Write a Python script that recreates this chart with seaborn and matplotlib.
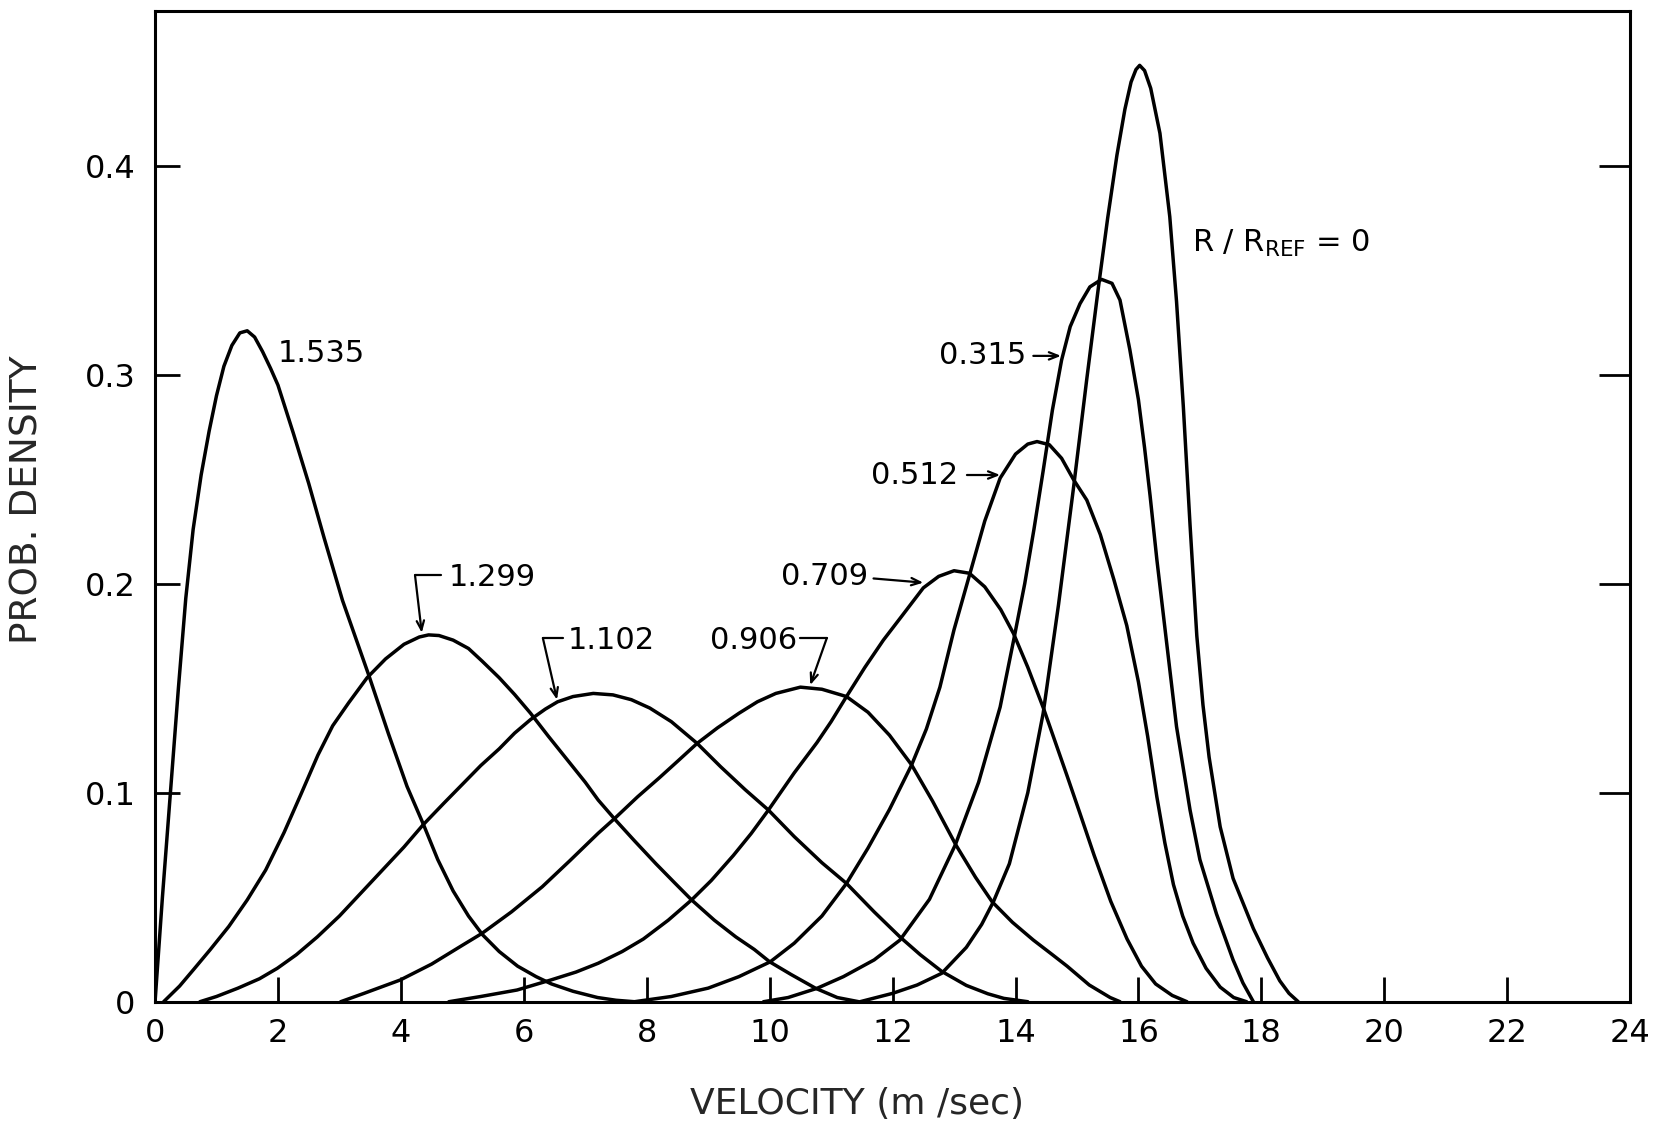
import matplotlib
matplotlib.use("Agg")
import matplotlib.pyplot as plt
import pandas as pd
import seaborn as sns

# Velocity (m/s) and probability density for each radial position R/R_REF
v_1535 = [0, 0.12, 0.25, 0.38, 0.5, 0.62, 0.75, 0.88, 1.0, 1.12, 1.25, 1.38, 1.5, 1.62, 1.75, 1.88, 2.0,
          2.25, 2.5, 2.75, 3.05, 3.48, 3.8, 4.1, 4.37, 4.6, 4.85, 5.1, 5.33, 5.6, 5.9, 6.2, 6.45, 6.8, 7.2, 7.5, 7.8]
p_1535 = [0, 0.05, 0.1, 0.15, 0.193, 0.226, 0.252, 0.273, 0.29, 0.304, 0.314, 0.32, 0.321, 0.318, 0.311, 0.303, 0.295,
          0.272, 0.248, 0.222, 0.192, 0.156, 0.128, 0.103, 0.0846, 0.068, 0.053, 0.041, 0.032, 0.024, 0.017, 0.012, 0.0085, 0.005, 0.002, 0.0007, 0]

v_1299 = [0.14, 0.4, 0.63, 0.9, 1.2, 1.5, 1.8, 2.1, 2.37, 2.65, 2.89, 3.15, 3.45, 3.75, 4.05, 4.3, 4.45, 4.62, 4.85,
          5.1, 5.32, 5.6, 5.85, 6.11, 6.4, 6.7, 7.0, 7.21, 7.49, 7.8, 8.15, 8.45, 8.73, 9.1, 9.45, 9.75, 10.0, 10.35, 10.75, 11.1, 11.45]
p_1299 = [0, 0.0075, 0.0155, 0.025, 0.036, 0.0487, 0.063, 0.081, 0.099, 0.118, 0.132, 0.143, 0.155, 0.164, 0.171, 0.1745, 0.1755, 0.1752, 0.173,
          0.169, 0.163, 0.155, 0.147, 0.138, 0.127, 0.116, 0.105, 0.0965, 0.087, 0.077, 0.066, 0.057, 0.0487, 0.039, 0.031, 0.025, 0.0191, 0.013, 0.0064, 0.002, 0]

v_1102 = [0.73, 1.0, 1.35, 1.7, 1.99, 2.3, 2.64, 3.0, 3.35, 3.7, 4.05, 4.36, 4.7, 5.0, 5.3, 5.6, 5.85, 6.11, 6.35, 6.55, 6.8,
          7.13, 7.45, 7.75, 8.05, 8.4, 8.82, 9.2, 9.6, 9.98, 10.4, 10.85, 11.25, 11.7, 12.12, 12.45, 12.8, 13.2, 13.55, 13.81, 14.2]
p_1102 = [0, 0.0025, 0.0065, 0.011, 0.016, 0.0225, 0.031, 0.041, 0.052, 0.063, 0.074, 0.0846, 0.095, 0.104, 0.113, 0.121, 0.1285, 0.135, 0.14, 0.1435, 0.146,
          0.1475, 0.1468, 0.1445, 0.1405, 0.134, 0.1236, 0.1125, 0.1015, 0.0917, 0.079, 0.0665, 0.0566, 0.043, 0.031, 0.0225, 0.0145, 0.0078, 0.0038, 0.0016, 0]

v_0906 = [3.02, 3.4, 3.99, 4.5, 5.0, 5.32, 5.8, 6.3, 6.75, 7.21, 7.49, 7.85, 8.2, 8.5, 8.82, 9.15, 9.5, 9.8, 10.1, 10.5,
          10.85, 11.25, 11.6, 11.95, 12.31, 12.65, 13.03, 13.35, 13.62, 13.95, 14.29, 14.6, 14.84, 15.2, 15.54, 15.7]
p_0906 = [0, 0.004, 0.0104, 0.018, 0.027, 0.0327, 0.043, 0.055, 0.0675, 0.0806, 0.088, 0.098, 0.107, 0.115, 0.1236, 0.131, 0.138, 0.1435, 0.1475, 0.1505,
          0.1495, 0.146, 0.1385, 0.1275, 0.1133, 0.096, 0.075, 0.0595, 0.0478, 0.038, 0.0295, 0.0225, 0.017, 0.008, 0.002, 0]

v_0709 = [4.78, 5.3, 5.89, 6.44, 6.85, 7.21, 7.6, 7.945, 8.35, 8.73, 9.05, 9.41, 9.7, 9.98, 10.4, 10.77, 11.0, 11.25, 11.55, 11.85,
          12.15, 12.5, 12.75, 13.0, 13.25, 13.5, 13.76, 13.97, 14.2, 14.46, 14.84, 15.05, 15.28, 15.55, 15.815, 16.05, 16.28, 16.55, 16.79]
p_0709 = [0, 0.0025, 0.0056, 0.0104, 0.0142, 0.0184, 0.024, 0.03, 0.039, 0.0487, 0.058, 0.07, 0.0805, 0.0917, 0.1095, 0.124, 0.134, 0.146, 0.16, 0.173,
          0.1845, 0.198, 0.2035, 0.2062, 0.205, 0.1985, 0.1876, 0.176, 0.16, 0.14, 0.108, 0.09, 0.07, 0.048, 0.03, 0.017, 0.0085, 0.003, 0]

v_0512 = [7.8, 8.4, 9.0, 9.5, 10.01, 10.4, 10.85, 11.25, 11.6, 11.95, 12.31, 12.55, 12.77, 13.0, 13.26, 13.5, 13.75, 14.0, 14.2, 14.35,
          14.55, 14.75, 14.94, 15.16, 15.38, 15.6, 15.81, 16.0, 16.15, 16.3, 16.43, 16.57, 16.72, 16.89, 17.1, 17.33, 17.55, 17.76]
p_0512 = [0, 0.0025, 0.0065, 0.012, 0.0191, 0.028, 0.041, 0.0566, 0.0735, 0.092, 0.1133, 0.1305, 0.1505, 0.178, 0.205, 0.23, 0.2505, 0.262, 0.2668, 0.268,
          0.2665, 0.26, 0.25, 0.24, 0.2235, 0.202, 0.18, 0.153, 0.127, 0.098, 0.076, 0.056, 0.041, 0.028, 0.016, 0.007, 0.002, 0]

v_0315 = [9.9, 10.3, 10.77, 11.2, 11.7, 12.12, 12.6, 13.02, 13.4, 13.75, 13.97, 14.15, 14.3, 14.45, 14.6, 14.75, 14.89, 15.05, 15.21, 15.4,
          15.57, 15.7, 15.86, 16.0, 16.1, 16.19, 16.3, 16.46, 16.62, 16.84, 17.0, 17.27, 17.54, 17.7, 17.87]
p_0315 = [0, 0.002, 0.0064, 0.012, 0.02, 0.0295, 0.049, 0.075, 0.105, 0.141, 0.173, 0.2, 0.226, 0.254, 0.283, 0.307, 0.323, 0.334, 0.342, 0.3456,
          0.3437, 0.3357, 0.312, 0.288, 0.265, 0.242, 0.2115, 0.1715, 0.1316, 0.0917, 0.068, 0.042, 0.02, 0.009, 0]

v_0000 = [11.47, 12.0, 12.4, 12.8, 13.2, 13.45, 13.64, 13.9, 14.2, 14.45, 14.7, 14.94, 15.16, 15.35, 15.5, 15.65, 15.78, 15.88, 15.96, 16.02,
          16.1, 16.2, 16.35, 16.51, 16.62, 16.73, 16.84, 16.95, 17.05, 17.15, 17.33, 17.54, 17.87, 18.1, 18.3, 18.45, 18.6]
p_0000 = [0, 0.004, 0.008, 0.0136, 0.026, 0.037, 0.0478, 0.066, 0.1, 0.138, 0.19, 0.245, 0.298, 0.342, 0.375, 0.405, 0.427, 0.44, 0.446, 0.448,
          0.4455, 0.437, 0.4155, 0.3756, 0.335, 0.285, 0.228, 0.175, 0.142, 0.117, 0.0837, 0.059, 0.035, 0.021, 0.01, 0.004, 0]

ratios = ["1.535", "1.299", "1.102", "0.906", "0.709", "0.512", "0.315", "0"]
velocities = [v_1535, v_1299, v_1102, v_0906, v_0709, v_0512, v_0315, v_0000]
densities = [p_1535, p_1299, p_1102, p_0906, p_0709, p_0512, p_0315, p_0000]

x_ticks = [0, 2, 4, 6, 8, 10, 12, 14, 16, 18, 20, 22, 24]
y_ticks = [0, 0.1, 0.2, 0.3, 0.4]
y_tick_labels = ["0", "0.1", "0.2", "0.3", "0.4"]

df = pd.concat(
    [pd.DataFrame({"velocity": v, "density": p, "ratio": r})
     for r, v, p in zip(ratios, velocities, densities)],
    ignore_index=True,
)

sns.set_theme(style="ticks")
plt.rcParams["font.family"] = ["DejaVu Sans"]
plt.rcParams["axes.linewidth"] = 2.2

fig = plt.figure(figsize=(16.6, 11.23), dpi=100)
ax = fig.add_axes([0.0934, 0.1080, 0.8886, 0.8822])

sns.lineplot(
    data=df, x="velocity", y="density", hue="ratio",
    palette=["black"] * len(ratios), estimator=None, sort=False,
    legend=False, linewidth=2.5, solid_joinstyle="round",
    solid_capstyle="round", ax=ax,
)

ax.set_xlim(0, 24)
ax.set_ylim(0, 0.474)
ax.set_xticks(x_ticks)
ax.set_xticklabels([str(t) for t in x_ticks])
ax.set_yticks(y_ticks)
ax.set_yticklabels(y_tick_labels)
ax.tick_params(axis="both", direction="in", length=18, width=2.0,
               labelsize=23, colors="black")
ax.tick_params(axis="y", right=True, pad=14)
ax.tick_params(axis="x", pad=12)
for t in ax.yaxis.get_major_ticks():
    t.tick2line.set_markersize(22)
for s in ax.spines.values():
    s.set_color("black")

ax.set_xlabel("VELOCITY (m /sec)", fontsize=26)
ax.set_ylabel("PROB. DENSITY", fontsize=27)
ax.xaxis.set_label_coords(0.476, -0.086)
ax.yaxis.set_label_coords(-0.0746, 0.507)

lab = dict(fontsize=22, color="black", va="center")
arrow = dict(arrowstyle="->,head_length=0.55,head_width=0.22", lw=1.6,
             color="black", shrinkA=0, shrinkB=0)

ax.text(2.0, 0.31, "1.535", ha="left", **lab)
ax.text(16.87, 0.363, r"R / R$_{\mathregular{REF}}$ = 0", ha="left", **lab)

# straight arrows
ax.text(14.18, 0.309, "0.315", ha="right", **lab)
ax.annotate("", xy=(14.74, 0.309), xytext=(14.29, 0.309), arrowprops=arrow)
ax.text(13.07, 0.252, "0.512", ha="right", **lab)
ax.annotate("", xy=(13.75, 0.252), xytext=(13.21, 0.252), arrowprops=arrow)
ax.text(11.61, 0.2033, "0.709", ha="right", **lab)
ax.annotate("", xy=(12.5, 0.2005), xytext=(11.69, 0.2025), arrowprops=arrow)

# bent leaders
ax.text(10.44, 0.173, "0.906", ha="right", **lab)
ax.plot([10.49, 10.93], [0.174, 0.174], color="black", lw=1.6)
ax.annotate("", xy=(10.66, 0.1515), xytext=(10.93, 0.174), arrowprops=arrow)

ax.text(4.77, 0.203, "1.299", ha="left", **lab)
ax.plot([4.66, 4.23], [0.204, 0.204], color="black", lw=1.6)
ax.annotate("", xy=(4.34, 0.1765), xytext=(4.23, 0.204), arrowprops=arrow)

ax.text(6.72, 0.173, "1.102", ha="left", **lab)
ax.plot([6.64, 6.31], [0.174, 0.174], color="black", lw=1.6)
ax.annotate("", xy=(6.54, 0.1445), xytext=(6.31, 0.174), arrowprops=arrow)

fig.savefig("out.png", dpi=100, facecolor="white")
